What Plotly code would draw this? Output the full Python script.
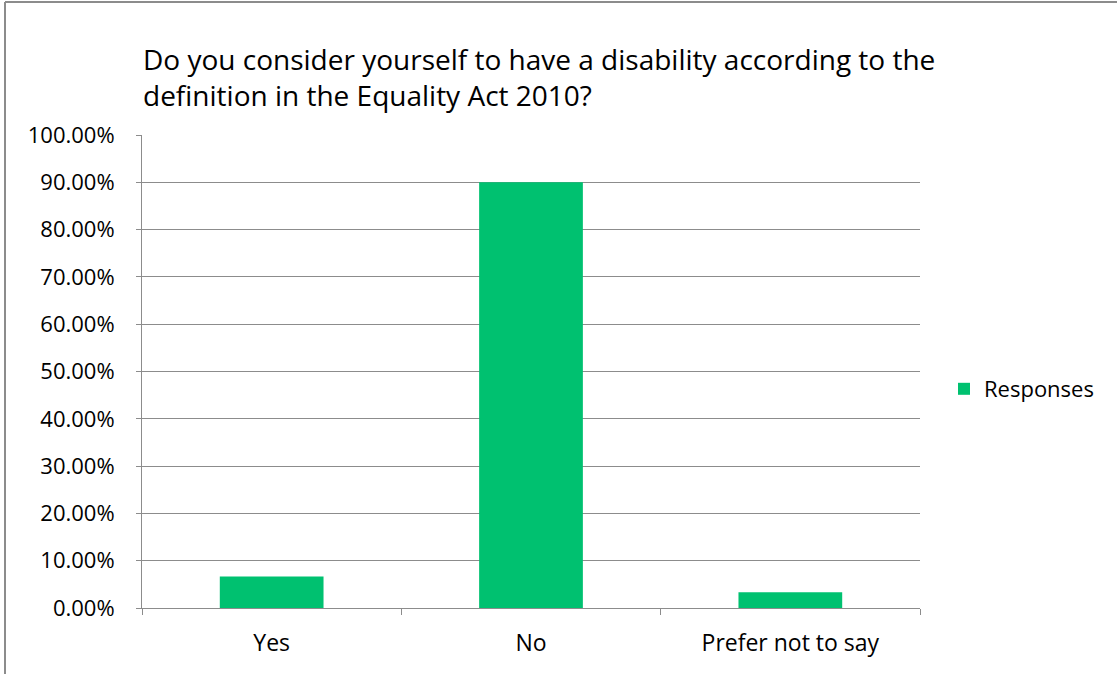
import plotly.graph_objects as go

categories = ["Yes", "No", "Prefer not to say"]
responses = [0.0667, 0.9000, 0.0333]
series_name = "Responses"
title_text = "Do you consider yourself to have a disability according to the<br>definition in the Equality Act 2010?"

FONT = "Open Sans, Calibri, Carlito, sans-serif"
GREEN = "#00C170"
GRID = "#8C8C8C"

W, H = 1117, 674
L, R, T, B = 142, 197, 135, 66
PW, PH = W - L - R, H - T - B

fig = go.Figure()
fig.add_trace(go.Bar(
    x=categories, y=responses, name=series_name,
    marker=dict(color=GREEN, line=dict(width=0)),
    width=0.4,
    showlegend=True,
))

fig.update_layout(
    width=W, height=H,
    paper_bgcolor="white", plot_bgcolor="white",
    margin=dict(l=L, r=R, t=T, b=B, autoexpand=False),
    font=dict(family=FONT, color="#000000", size=21),
    title=dict(text=title_text, x=143/W, xanchor="left", xref="container",
               y=1-70/H, yanchor="top", yref="container",
               font=dict(size=28, family=FONT, color="#000000")),
    legend=dict(x=(944-L)/PW, xanchor="left", y=0.463, yanchor="middle",
                font=dict(size=22, family=FONT), itemwidth=30),
    bargap=0.6,
    showlegend=True,
)
fig.update_yaxes(
    range=[0, 1.0], dtick=0.1, tickformat=".2%",
    showgrid=True, gridcolor=GRID, gridwidth=1,
    showline=True, linecolor=GRID, linewidth=1,
    ticks="outside", ticklen=5, tickcolor=GRID,
    ticklabelstandoff=17,
    zeroline=False, tickfont=dict(size=22, family=FONT),
)
fig.update_xaxes(
    showline=True, linecolor=GRID, linewidth=1,
    ticks="outside", ticklen=6, tickcolor=GRID, tickson="boundaries",
    ticklabelstandoff=14,
    showgrid=False, tickfont=dict(size=23, family=FONT),
)
# outer chart border (left and top edges visible)
bx = (5 - L) / PW
by = 1 + (T - 2) / PH
fig.add_shape(type="line", xref="paper", yref="paper",
              x0=bx, x1=bx, y0=-B / PH - 0.01, y1=by,
              line=dict(color="#8C8C8C", width=2))
fig.add_shape(type="line", xref="paper", yref="paper",
              x0=bx, x1=(W - L) / PW + 0.01, y0=by, y1=by,
              line=dict(color="#8C8C8C", width=2))

fig.write_html("out.html", config={"displayModeBar": False},
               post_script="document.body.style.margin='0';")
